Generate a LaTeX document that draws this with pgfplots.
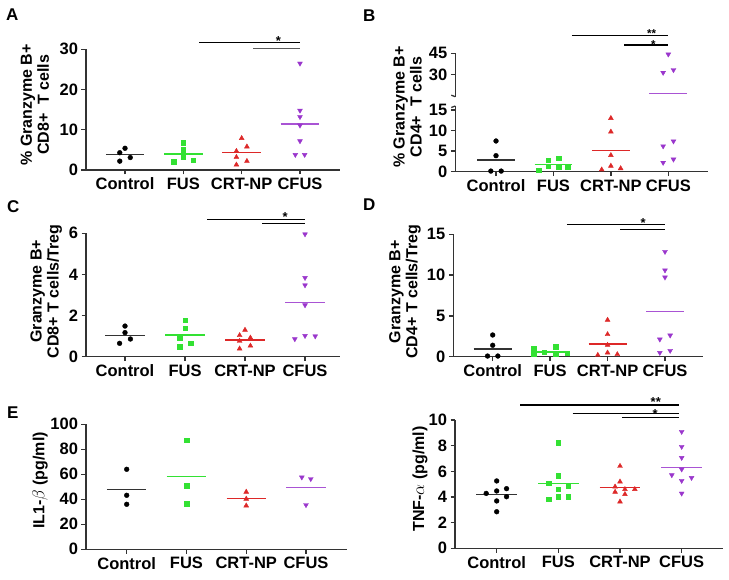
\documentclass[border=0pt]{standalone}
\usepackage{fontspec}
\setmainfont{Liberation Sans}
\usepackage{pgfplots}
\pgfplotsset{compat=1.18}
\definecolor{cgreen}{HTML}{33E133}
\definecolor{cred}{HTML}{DD2828}
\definecolor{cpurple}{HTML}{9A36CC}
\definecolor{axc}{HTML}{333333}
\pgfplotsset{
  prism/.style={
    scale only axis,
    anchor=south west,
    axis x line*=bottom,
    axis y line*=left,
    axis line style={line width=1.3pt, draw=axc},
    every tick/.style={line width=1.3pt, draw=axc},
    tick align=outside,
    major tick length=4.5pt,
    xtick={0,1,2,3},
    xticklabels={Control,FUS,CRT-NP,CFUS},
    tick label style={font=\bfseries\fontsize{16.5}{18}\selectfont, text=black},
    /pgf/number format/assume math mode=true,
    clip=false,
    ymin=0,
    ylabel style={font=\bfseries\fontsize{16}{17}\selectfont, align=center, anchor=center},
  },
  g0/.style={only marks, mark=*, mark size=2.4pt, draw=black, fill=black},
  g1/.style={only marks, mark=square*, mark size=2.3pt, draw=cgreen, fill=cgreen},
  g2/.style={only marks, mark=triangle*, mark size=2.8pt, draw=cred, fill=cred},
  g3/.style={only marks, mark=triangle*, mark size=2.8pt, draw=cpurple, fill=cpurple, mark options={rotate=180}},
  m0/.style={line width=1.4pt, draw=axc},
  m1/.style={line width=1.4pt, draw=cgreen},
  m2/.style={line width=1.4pt, draw=cred},
  m3/.style={line width=1.4pt, draw=cpurple!85},
}
\tikzset{
  sig/.style={line width=1.1pt, draw=black},
  star/.style={font=\bfseries\fontsize{13}{13}\selectfont, inner sep=0pt, anchor=base, yshift=-7pt},
  smallstar/.style={font=\bfseries\fontsize{11.5}{11.5}\selectfont, inner sep=0pt, anchor=base, yshift=-6.3pt},
  letter/.style={font=\bfseries\fontsize{17}{17}\selectfont, inner sep=0pt, anchor=north west},
}
\begin{document}
\begin{tikzpicture}
\path[use as bounding box] (0pt,0pt) rectangle (729pt,579pt);
\node[letter] at (6pt,570pt) {A};
\node[letter] at (363pt,569pt) {B};
\node[letter] at (7pt,379pt) {C};
\node[letter] at (363pt,380pt) {D};
\node[letter] at (7pt,172pt) {E};

% ---------------- A
\begin{axis}[prism, at={(86pt,409pt)}, width=254pt, height=120.7pt,
  xmin=-0.669, xmax=3.686, ymax=30, ytick={0,10,20,30},
  ylabel={\% Granzyme B+\\CD8+\ \ T cells},
  ylabel style={at={(axis description cs:-0.201,0.54)}}]
\addplot[g0] coordinates {(0,5.4) (-0.09,4.3) (0.09,3.1) (-0.09,2.2)};
\addplot[g1] coordinates {(1,6.8) (1,5.1) (1,3.2) (0.83,2.1) (1.17,2.4)};
\addplot[g2] coordinates {(2,7.9) (2.09,5.8) (1.91,4.7) (1.91,3.2) (2.09,2.2) (1.91,1.3)};
\addplot[g3] coordinates {(3,26.5) (3,14.8) (3,13.2) (3,11.1) (3,7.2) (2.92,3.8) (3.08,3.8)};
\addplot[m0] coordinates {(-0.33,3.8) (0.33,3.8)};
\addplot[m1] coordinates {(0.67,4.0) (1.33,4.0)};
\addplot[m2] coordinates {(1.67,4.3) (2.33,4.3)};
\addplot[m3] coordinates {(2.67,11.4) (3.33,11.4)};
\draw[sig] (axis cs:1.27,31.6) -- (axis cs:3,31.6);
\draw[sig, draw=black!65] (axis cs:2.2,30.15) -- (axis cs:3,30.15);
\node[star] at (axis cs:2.63,32.7) {*};
\end{axis}

% ---------------- B lower
\begin{axis}[prism, at={(455.3pt,407.3pt)}, width=252.7pt, height=65.7pt,
  xmin=-0.709, xmax=3.691, ymax=15.96, ytick={0,5,10,15},
  ylabel={\% Granzyme B+\\CD4+\ \ T cells},
  ylabel style={at={(axis description cs:-0.189,0.985)}}]
\addplot[g0] coordinates {(0,7.46) (0,3.89) (-0.09,0.15) (0.09,0.15)};
\addplot[g1] coordinates {(0.74,0.4) (0.91,2.84) (1.09,3.25) (0.91,1.38) (1.09,1.07) (1.25,1.21)};
\addplot[g2] coordinates {(2,13.0) (2,9.7) (2,4.0) (2,1.4) (1.84,0.5) (2.17,0.8)};
\addplot[g3] coordinates {(2.91,6.2) (3.09,7.4) (2.91,2.2) (3.09,3.0)};
\addplot[m0] coordinates {(-0.33,2.83) (0.33,2.83)};
\addplot[m1] coordinates {(0.67,1.8) (1.33,1.8)};
\addplot[m2] coordinates {(1.67,5.1) (2.33,5.1)};
\draw[line width=1.3pt, draw=axc] (axis description cs:0,1) -- ++(-4pt,-1.5pt);
\end{axis}
% ---------------- B upper
\begin{axis}[prism, at={(455.3pt,482.3pt)}, width=252.7pt, height=43.4pt,
  xmin=-0.709, xmax=3.691, ymin=14.5, ymax=45, ytick={30,45},
  axis x line=none]
\addplot[g3] coordinates {(3,44.3) (2.91,31.4) (3.09,33.3)};
\addplot[m3] coordinates {(2.67,16.9) (3.33,16.9)};
\draw[line width=1.3pt, draw=axc] (axis description cs:0,0) -- ++(-4pt,1.5pt);
\draw[sig] (axis cs:1.32,57.4) -- (axis cs:3,57.4);
\draw[sig] (axis cs:2.23,50.8) -- (axis cs:3,50.8);
\node[smallstar] at (axis cs:2.71,60.6) {**};
\node[smallstar] at (axis cs:2.74,52.8) {*};
\end{axis}

% ---------------- C
\begin{axis}[prism, at={(86pt,222.3pt)}, width=254pt, height=123.4pt,
  xmin=-0.65, xmax=3.583, ymax=6, ytick={0,2,4,6},
  ylabel={Granzyme B+\\CD8+ T cells/Treg},
  ylabel style={at={(axis description cs:-0.157,0.53)}}]
\addplot[g0] coordinates {(0,1.49) (0,1.17) (0.09,0.86) (-0.09,0.65)};
\addplot[g1] coordinates {(1,1.78) (1,1.39) (0.91,0.92) (1.09,0.65) (0.91,0.49)};
\addplot[g2] coordinates {(2,1.3) (1.91,1.04) (2.09,0.92) (1.91,0.76) (2.09,0.53) (1.91,0.39)};
\addplot[g3] coordinates {(3,5.96) (3,3.84) (3,3.48) (3,2.51) (2.83,0.86) (3,1.02) (3.17,1.0)};
\addplot[m0] coordinates {(-0.33,1.02) (0.33,1.02)};
\addplot[m1] coordinates {(0.67,1.05) (1.33,1.05)};
\addplot[m2] coordinates {(1.67,0.81) (2.33,0.81)};
\addplot[m3] coordinates {(2.67,2.63) (3.33,2.63)};
\draw[sig] (axis cs:1.37,6.66) -- (axis cs:3,6.66);
\draw[sig] (axis cs:2.29,6.47) -- (axis cs:3,6.47);
\node[star] at (axis cs:2.67,6.9) {*};
\end{axis}

% ---------------- D
\begin{axis}[prism, at={(453.3pt,222.3pt)}, width=250pt, height=122.4pt,
  xmin=-0.686, xmax=3.667, ymax=15, ytick={0,5,10,15},
  ylabel={Granzyme B+\\CD4+ T cells/Treg},
  ylabel style={at={(axis description cs:-0.193,0.53)}}]
\addplot[g0] coordinates {(0,2.66) (0,1.4) (-0.09,0.08) (0.09,0.08)};
\addplot[g1] coordinates {(0.71,1.03) (0.71,0.33) (0.9,0.54) (1.1,1.23) (1.1,0.33) (1.3,0.41)};
\addplot[g2] coordinates {(2,4.5) (2,2.74) (2,1.43) (2,0.49) (1.83,0.2) (2.17,0.29)};
\addplot[g3] coordinates {(3,12.87) (3,10.6) (3,9.73) (2.91,2.13) (3.09,2.62) (2.91,0.49) (3.09,0.74)};
\addplot[m0] coordinates {(-0.33,0.94) (0.33,0.94)};
\addplot[m1] coordinates {(0.67,0.6) (1.33,0.6)};
\addplot[m2] coordinates {(1.67,1.55) (2.33,1.55)};
\addplot[m3] coordinates {(2.67,5.56) (3.33,5.56)};
\draw[sig] (axis cs:1.29,16.2) -- (axis cs:3,16.2);
\draw[sig] (axis cs:2.22,15.6) -- (axis cs:3,15.6);
\node[star] at (axis cs:2.62,16.7) {*};
\end{axis}

% ---------------- E
\begin{axis}[prism, at={(86pt,29.7pt)}, width=260.7pt, height=125pt,
  xmin=-0.681, xmax=3.681, ymax=100, ytick={0,20,40,60,80,100},
  ylabel={IL1-$\beta$ (pg/ml)},
  ylabel style={at={(axis description cs:-0.176,0.55)}}]
\addplot[g0] coordinates {(0,64) (0,43.2) (0,36)};
\addplot[g1] coordinates {(1,87.2) (1,50.7) (1,36.3)};
\addplot[g2] coordinates {(2,45.9) (2,40.3) (2,34.9)};
\addplot[g3] coordinates {(2.93,57.6) (3.08,56.3) (3,35.5)};
\addplot[m0] coordinates {(-0.33,48) (0.33,48)};
\addplot[m1] coordinates {(0.67,58.1) (1.33,58.1)};
\addplot[m2] coordinates {(1.67,40.8) (2.33,40.8)};
\addplot[m3] coordinates {(2.67,49.3) (3.33,49.3)};
\end{axis}

% ---------------- F
\begin{axis}[prism, at={(455pt,30.7pt)}, width=268.3pt, height=128.3pt,
  xmin=-0.676, xmax=3.675, ymax=10, ytick={0,2,4,6,8,10},
  ylabel={TNF-$\alpha$ (pg/ml)},
  ylabel style={at={(axis description cs:-0.13,0.54)}}]
\addplot[g0] coordinates {(0,5.25) (-0.17,4.28) (0,4.47) (0.16,4.65) (0.16,4.02) (0,3.69) (0,2.85)};
\addplot[g1] coordinates {(1,8.23) (1,5.66) (0.84,5.07) (1.16,4.88) (1,4.62) (0.84,3.84) (1,4.02) (1.16,4.02)};
\addplot[g2] coordinates {(2,6.41) (2,5.19) (1.92,4.8) (2.08,4.6) (2.24,4.6) (1.92,4.39) (2.08,4.21) (2,3.63)};
\addplot[g3] coordinates {(3,9.09) (3,7.92) (3,7.06) (3,6.16) (2.84,5.71) (3.16,5.5) (3,5.27) (3,4.28)};
\addplot[m0] coordinates {(-0.33,4.21) (0.33,4.21)};
\addplot[m1] coordinates {(0.67,5.07) (1.33,5.07)};
\addplot[m2] coordinates {(1.67,4.75) (2.33,4.75)};
\addplot[m3] coordinates {(2.67,6.31) (3.33,6.31)};
\draw[sig] (axis cs:0.38,11.17) -- (axis cs:2.96,11.17);
\draw[sig] (axis cs:1.23,10.49) -- (axis cs:2.96,10.49);
\draw[sig] (axis cs:2.04,10.18) -- (axis cs:2.96,10.18);
\node[star] at (axis cs:2.58,11.6) {**};
\node[star] at (axis cs:2.57,10.7) {*};
\end{axis}
\end{tikzpicture}
\end{document}
